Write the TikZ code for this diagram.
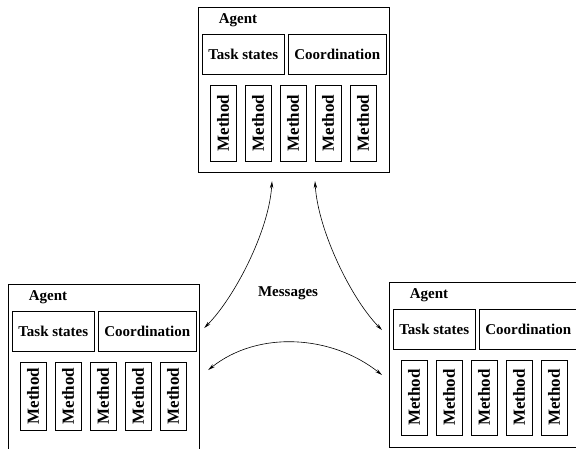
\documentclass[tikz,border=0pt]{standalone}
\usepackage{fontspec}
\setmainfont{Liberation Serif}
\usetikzlibrary{arrows.meta,positioning}
\tikzset{
  agentbox/.style={draw,line width=1.2pt,minimum width=191pt,minimum height=165pt,inner sep=0pt,anchor=north west},
  partbox/.style={draw,line width=.5pt,minimum height=40pt,inner sep=0pt,anchor=north west,font=\fontsize{15}{18}\selectfont\bfseries},
  methodbox/.style={draw,line width=.5pt,minimum height=26pt,inner sep=0pt,rotate=90,font=\fontsize{17}{20}\selectfont\bfseries},
  msg/.style={{Stealth[length=7pt,width=3.5pt]}-{Stealth[length=7pt,width=3.5pt]},line width=.6pt}
}
\begin{document}
\begin{tikzpicture}[x=1pt,y=-1pt]
        \useasboundingbox (0,0) rectangle (576,448);
        \clip (0,0) rectangle (576,448);
        % three agents
        \foreach \name/\ax/\ay/\mh in {top/198/7/76,left/8/284/68,right/389/282/75}{
          \node[agentbox] (\name) at (\ax,\ay) {};
          \begin{scope}[shift={(\ax,\ay)}]
            \node[font=\fontsize{15}{18}\selectfont\bfseries] (\name-label) at (40,13) {Agent};
            \node[partbox,minimum width=82pt] (\name-task) at (4,27) {Task states};
            \node[partbox,minimum width=98pt] (\name-coord) at (90,27) {Coordination};
            \foreach \i in {1,...,5}
              \node[methodbox,minimum width=\mh pt] (\name-m\i) at (-10+35*\i,78+\mh/2) {Method};
          \end{scope}
        }
        % messages between agents
        \draw[msg] ([xshift=74pt,yshift=-8pt]top.south west) .. controls +(-3,50) and +(30,-30) .. ([xshift=4pt,yshift=-44pt]left.north east);
        \draw[msg] ([xshift=117pt,yshift=-8pt]top.south west) .. controls +(3,50) and +(-30,-30) .. ([xshift=-7pt,yshift=-48pt]right.north west);
        \draw[msg] ([xshift=8pt,yshift=-86pt]left.north east) .. controls +(50,-40) and +(-50,-40) .. ([xshift=-7pt,yshift=-93pt]right.north west);
        \node[font=\fontsize{15}{18}\selectfont\bfseries] (messages) at (288,293) {Messages};
      \end{tikzpicture}
\end{document}
